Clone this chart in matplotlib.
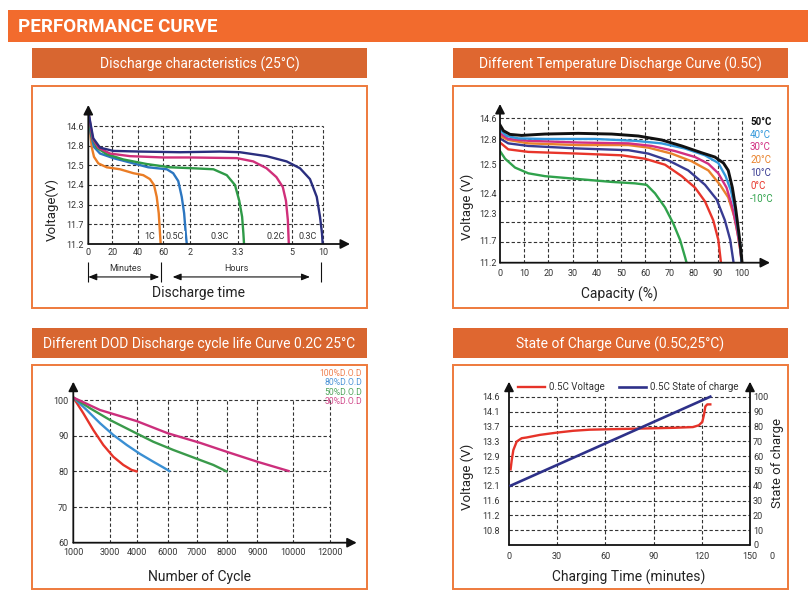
import numpy as np
import matplotlib
matplotlib.use("Agg")
import matplotlib.pyplot as plt
from matplotlib.patches import Rectangle

plt.rcParams['font.family'] = ['Roboto', 'DejaVu Sans']

# %% data

# discharge characteristics (25C): time in hours, voltage in V
dis_labels = ['1C', '0.5C', '0.3C', '0.2C', '0.3C']
dis_1c_h = [0, 0.024, 0.047, 0.079, 0.139, 0.256, 0.432, 0.603, 0.733, 0.822, 0.876, 0.912, 0.939, 0.956, 0.965]
dis_1c_v = [15.91, 14.24, 12.78, 12.63, 12.53, 12.49, 12.48, 12.46, 12.45, 12.43, 12.40, 12.34, 12.04, 11.47, 11.2]
dis_05c_h = [0, 0.033, 0.079, 0.163, 0.346, 0.603, 0.8, 1.13, 1.37, 1.56, 1.69, 1.78, 1.84, 1.88]
dis_05c_v = [15.91, 13.93, 12.78, 12.68, 12.61, 12.53, 12.49, 12.48, 12.46, 12.42, 12.34, 12.04, 11.47, 11.2]
dis_03c_h = [0, 0.047, 0.117, 0.256, 0.474, 0.779, 1.25, 2.09, 2.63, 2.99, 3.21, 3.33, 3.42, 3.46, 3.48]
dis_03c_v = [15.91, 13.63, 12.77, 12.67, 12.59, 12.52, 12.49, 12.485, 12.48, 12.45, 12.40, 12.32, 11.93, 11.47, 11.2]
dis_02c_h = [0, 0.061, 0.139, 0.301, 0.56, 1.0, 2.0, 3.26, 3.77, 4.19, 4.50, 4.70, 4.80, 4.86, 4.89]
dis_02c_v = [15.91, 13.47, 12.77, 12.68, 12.64, 12.62, 12.62, 12.61, 12.56, 12.485, 12.44, 12.39, 12.32, 11.83, 11.2]
dis_03c_long_h = [0, 0.069, 0.163, 0.346, 0.69, 1.63, 2.81, 3.35, 4.19, 4.82, 6.24, 7.85, 8.94, 9.47, 9.79, 9.90]
dis_03c_long_v = [15.91, 13.47, 12.77, 12.72, 12.71, 12.70, 12.71, 12.70, 12.64, 12.56, 12.485, 12.43, 12.34, 11.93, 11.47, 11.2]
dis_xticks = [0, 1 / 3, 2 / 3, 1, 2, 3.3, 5, 10]
dis_xticklabels = ['0', '20', '40', '60', '2', '3.3', '5', '10']
dis_yticks = [11.2, 11.7, 12.3, 12.4, 12.5, 12.8, 14.6]

# temperature discharge (0.5C): capacity in %, voltage in V
temp_labels = ['50°C', '40°C', '30°C', '20°C', '10°C', '0°C', '-10°C']
t50_cap = [0, 1.4, 4.1, 8.9, 18.6, 32.3, 46.1, 57.1, 66.7, 75.0, 83.2, 88.7, 92.2, 94.2, 95.9, 97.2, 98.6, 99.4, 99.9]
t50_v = [14.03, 13.53, 13.21, 13.12, 13.24, 13.30, 13.24, 13.07, 12.79, 12.72, 12.64, 12.59, 12.52, 12.48, 12.42, 12.33, 11.86, 11.49, 11.2]
t40_cap = [0, 2.8, 7.6, 18.6, 39.2, 55.7, 66.7, 76.3, 84.6, 90.1, 93.1, 95.3, 97.0, 98.3, 99.3, 99.7]
t40_v = [13.59, 13.07, 12.86, 12.81, 12.81, 12.78, 12.75, 12.69, 12.61, 12.52, 12.46, 12.41, 12.32, 11.90, 11.53, 11.2]
t30_cap = [0, 3.4, 11.7, 32.3, 53.0, 62.6, 72.2, 80.5, 86.0, 90.1, 93.5, 95.9, 97.7, 99.0, 99.7]
t30_v = [13.30, 12.81, 12.78, 12.76, 12.75, 12.72, 12.66, 12.59, 12.51, 12.47, 12.42, 12.33, 11.97, 11.56, 11.22]
t20_cap = [0, 3.4, 11.7, 32.3, 53.0, 61.2, 70.8, 79.1, 86.0, 90.8, 94.2, 96.7, 98.3, 99.4, 99.7]
t20_v = [13.07, 12.79, 12.75, 12.73, 12.73, 12.70, 12.63, 12.54, 12.48, 12.43, 12.38, 12.23, 11.79, 11.41, 11.2]
t10_cap = [0, 3.4, 11.7, 32.3, 53.0, 61.2, 69.5, 77.7, 84.6, 89.4, 92.8, 95.0, 96.4]
t10_v = [12.86, 12.75, 12.72, 12.69, 12.67, 12.63, 12.55, 12.48, 12.43, 12.37, 12.15, 11.72, 11.2]
t0_cap = [0, 3.4, 11.7, 32.3, 50.2, 59.8, 68.1, 75.0, 80.5, 84.6, 88.0, 90.1, 91.2]
t0_v = [12.76, 12.68, 12.65, 12.63, 12.61, 12.57, 12.50, 12.46, 12.42, 12.36, 12.15, 11.72, 11.2]
tm10_cap = [0, 2.1, 6.2, 11.7, 18.6, 32.3, 46.1, 55.7, 60.5, 64.0, 68.1, 71.5, 74.3, 76.3, 77.0]
tm10_v = [12.66, 12.57, 12.49, 12.47, 12.46, 12.45, 12.44, 12.435, 12.43, 12.40, 12.33, 12.08, 11.72, 11.34, 11.2]
temp_xticks = [0, 10, 20, 30, 40, 50, 60, 70, 80, 90, 100]
temp_yticks = [11.2, 11.7, 12.3, 12.4, 12.5, 12.8, 14.6]

# DOD cycle life (0.2C 25C): cycles, capacity %
dod_labels = ['100%D.O.D', '80%D.O.D', '50%D.O.D', '30%D.O.D']
dod100_cyc = [1000, 1545, 2090, 2635, 3124, 3500, 3812, 4000]
dod100_cap = [100.7, 96.3, 91.6, 87.4, 84.1, 81.8, 80.4, 80.0]
dod80_cyc = [1000, 1730, 2455, 3124, 3628, 4219, 5077, 5723, 6057]
dod80_cap = [100.7, 97.2, 93.5, 90.2, 87.4, 84.9, 82.7, 81.1, 80.1]
dod50_cyc = [1000, 1910, 3000, 3876, 5077, 6192, 6865, 7546, 8000]
dod50_cap = [100.7, 97.7, 94.4, 91.1, 88.3, 86.0, 83.9, 81.8, 80.0]
dod30_cyc = [1000, 2455, 4000, 6000, 7092, 8000, 9000, 9887]
dod30_cap = [100.7, 97.2, 94.1, 90.7, 88.0, 85.5, 82.7, 80.1]
dod_xticks = [1000, 3000, 4000, 6000, 7000, 8000, 9000, 10000, 12000]
dod_yticks = [60, 70, 80, 90, 100]

# state of charge (0.5C 25C): minutes, voltage V, SOC %
chg_min = [1.0, 1.7, 2.7, 4.8, 7.9, 11.0, 19.3, 29.6, 40.0, 50.3, 60.7, 81.4, 102.1, 114.5, 118.2, 120.3, 121.3, 122.2, 123.4, 125.3]
chg_volt = [12.54, 12.79, 13.06, 13.29, 13.38, 13.40, 13.47, 13.53, 13.58, 13.61, 13.62, 13.64, 13.66, 13.68, 13.73, 13.82, 14.00, 14.27, 14.34, 14.34]
soc_min = [1.0, 125.3]
soc_pct = [40, 100]
chg_xticks = [0, 30, 60, 90, 120, 150]
chg_vticks = [10.8, 11.2, 11.6, 12.1, 12.5, 12.9, 13.3, 13.7, 14.1, 14.6]
soc_ticks = [0, 10, 20, 30, 40, 50, 60, 70, 80, 90, 100]

# %% helpers

W, H = 808, 600
fig = plt.figure(figsize=(W / 100, H / 100), dpi=100)
bg = fig.add_axes([0, 0, 1, 1])
bg.set_xlim(0, W)
bg.set_ylim(H, 0)
bg.axis('off')

AX = '#111111'
GRID = '#333333'
TICK = '#333333'


def px_axes(l, t, r, b):
    ax = fig.add_axes([l / W, 1 - b / H, (r - l) / W, (b - t) / H])
    ax.set_facecolor('none')
    for s in ax.spines.values():
        s.set_visible(False)
    return ax


def knot_scale(ax, axis, vals, pos):
    # piecewise linear scale so the uneven tick values sit on the printed grid
    vals = np.asarray(vals, float)
    pos = np.asarray(pos, float)
    lo = (pos[1] - pos[0]) / (vals[1] - vals[0])
    hi = (pos[-1] - pos[-2]) / (vals[-1] - vals[-2])
    v = np.concatenate([[vals[0] - 1e4], vals, [vals[-1] + 1e4]])
    p = np.concatenate([[pos[0] - 1e4 * lo], pos, [pos[-1] + 1e4 * hi]])
    fwd = lambda x: np.interp(x, v, p)
    inv = lambda y: np.interp(y, p, v)
    if axis == 'x':
        ax.set_xscale('function', functions=(fwd, inv))
    else:
        ax.set_yscale('function', functions=(fwd, inv))
    return inv


def axis_line(ax, start, end, arrow=True):
    style = '-|>,head_length=0.55,head_width=0.28' if arrow else '-'
    ax.annotate('', xy=end, xytext=start, xycoords='axes fraction',
                arrowprops=dict(arrowstyle=style, lw=1.3, color=AX,
                                shrinkA=0, shrinkB=0))


def dashed_grid(ax, xs, y0, y1, ys, x0, x1):
    ax.vlines(xs, y0, y1, colors=GRID, linestyles=(0, (3, 2)), lw=0.8, zorder=1)
    ax.hlines(ys, x0, x1, colors=GRID, linestyles=(0, (3, 2)), lw=0.8, zorder=1)


# %% frames and headers

bg.add_patch(Rectangle((8, 10), 800, 32, color='#F26B2D', lw=0))
bg.text(18, 26.5, 'PERFORMANCE CURVE', color='white', fontsize=13.5,
        fontweight='bold', va='center', ha='left')

frames = [
    (32, 367, 48, 78, 86, 308, 'Discharge characteristics (25°C)', '#D86630'),
    (453, 788, 48, 78, 86, 308, 'Different Temperature Discharge Curve (0.5C)', '#DF6730'),
    (32, 367, 328, 358, 365, 589, 'Different DOD Discharge cycle life Curve 0.2C 25°C', '#D86630'),
    (453, 788, 328, 358, 365, 589, 'State of Charge Curve (0.5C,25°C)', '#DF6730'),
]
for x0, x1, ht, hb, bt, bb, title, col in frames:
    bg.add_patch(Rectangle((x0, ht), x1 - x0, hb - ht, color=col, lw=0))
    bg.text((x0 + x1) / 2, (ht + hb) / 2 + 1, title, color='white', fontsize=10,
            ha='center', va='center')
    bg.add_patch(Rectangle((x0, bt), x1 - x0, bb - bt, fill=False,
                           ec='#EE7A3C', lw=1.4))

# %% panel 1: discharge characteristics

ax1 = px_axes(88.3, 105, 350, 244)
inv_x1 = knot_scale(ax1, 'x', dis_xticks, [0, 24, 50, 75, 101.7, 150, 204, 235])
inv_y1 = knot_scale(ax1, 'y', dis_yticks, [0, 19.67, 39.33, 59, 78.67, 98.33, 118])
ax1.set_xlim(0, inv_x1(261.7))
ax1.set_ylim(11.2, inv_y1(139))
dashed_grid(ax1, dis_xticks[1:], 11.2, 14.6, dis_yticks[1:], 0, 10)

dis_series = [(dis_1c_h, dis_1c_v, '#EA7D26'), (dis_05c_h, dis_05c_v, '#2C76C0'),
              (dis_03c_h, dis_03c_v, '#2E9A47'), (dis_02c_h, dis_02c_v, '#D02F7A'),
              (dis_03c_long_h, dis_03c_long_v, '#2A2E7E')]
for xs, ys, c in dis_series:
    ax1.plot(xs, ys, color=c, lw=1.7, zorder=3, solid_capstyle='round')

tag_hours = [0.82, 1.44, 2.81, 4.48, 7.48]
for lab, th in zip(dis_labels, tag_hours):
    ax1.text(th, 11.40, lab, fontsize=6.5, color=TICK, ha='center', va='center',
             zorder=4, bbox=dict(fc='white', ec='none', pad=0.3))

ax1.set_xticks(dis_xticks, dis_xticklabels)
ax1.set_yticks(dis_yticks, [f'{v:.1f}' for v in dis_yticks])
ax1.tick_params(length=0, labelsize=6.5, labelcolor=TICK)
ax1.tick_params(axis='x', pad=3.2)
ax1.tick_params(axis='y', pad=3)
ax1.minorticks_off()
axis_line(ax1, (0, 0), (1, 0))
axis_line(ax1, (0, 0), (0, 1))
ax1.set_ylabel('Voltage(V)', fontsize=9.5, color='#222')
ax1.yaxis.set_label_coords(-0.112, 0.245)
ax1.set_xlabel('Discharge time', fontsize=10, color='#222')
ax1.xaxis.set_label_coords(0.423, -0.302)

# minutes / hours brackets below the axis
tr = ax1.get_xaxis_transform()
ax1.vlines([0, 0.965, 9.6], -0.273, -0.13, transform=tr, colors=AX, lw=0.8, clip_on=False)
for a, b in [(0, 0.947), (1.35, 7.85)]:
    ax1.annotate('', xy=(b, -0.237), xytext=(a, -0.237), xycoords=tr,
                 arrowprops=dict(arrowstyle='<|-|>,head_length=0.5,head_width=0.2',
                                 lw=0.8, color=AX, shrinkA=0, shrinkB=0))
ax1.text(0.496, -0.173, 'Minutes', transform=tr, fontsize=6.5, color=TICK,
         ha='center', va='center')
ax1.text(3.24, -0.173, 'Hours', transform=tr, fontsize=6.5, color=TICK,
         ha='center', va='center')

# %% panel 2: temperature discharge curves

ax2 = px_axes(500, 104, 770, 262.7)
inv_y2 = knot_scale(ax2, 'y', temp_yticks, [0, 22, 49.3, 69.3, 98, 123.6, 144.3])
ax2.set_xlim(0, 270 / 2.423)
ax2.set_ylim(11.2, inv_y2(158.7))
dashed_grid(ax2, temp_xticks[1:], 11.2, 14.6,
            [inv_y2(20.6 * k) for k in range(1, 8)], 0, 100)

temp_colors = ['#111111', '#3398DB', '#D22F82', '#E9822C', '#383B92', '#E8352B', '#30A24C']
temp_series = [(t50_cap, t50_v), (t40_cap, t40_v), (t30_cap, t30_v), (t20_cap, t20_v),
               (t10_cap, t10_v), (t0_cap, t0_v), (tm10_cap, tm10_v)]
for (xs, ys), c in reversed(list(zip(temp_series, temp_colors))):
    ax2.plot(xs, ys, color=c, lw=1.7 if c != '#111111' else 2.1, zorder=3)

for i, (lab, c) in enumerate(zip(temp_labels, temp_colors)):
    ax2.text(0.926, 0.888 - i * 0.0807, lab, transform=ax2.transAxes, color=c,
             fontsize=7, fontweight='bold' if i == 0 else 'normal',
             ha='left', va='center')

ax2.set_xticks(temp_xticks, [str(v) for v in temp_xticks])
ax2.set_yticks(temp_yticks, [f'{v:.1f}' for v in temp_yticks])
ax2.tick_params(length=0, labelsize=6.5, labelcolor=TICK)
ax2.tick_params(axis='x', pad=4.2)
ax2.tick_params(axis='y', pad=2.2)
ax2.minorticks_off()
axis_line(ax2, (0, 0), (1, 0))
axis_line(ax2, (0, 0), (0, 1))
ax2.set_ylabel('Voltage (V)', fontsize=9.5, color='#222')
ax2.yaxis.set_label_coords(-0.096, 0.353)
ax2.set_xlabel('Capacity (%)', fontsize=10, color='#222')
ax2.xaxis.set_label_coords(0.444, -0.151)

# %% panel 3: DOD cycle life

ax3 = px_axes(73.3, 381.7, 356.7, 542.7)
inv_x3 = knot_scale(ax3, 'x', dod_xticks, [0, 36.7, 63.3, 94.3, 124, 153.3, 184, 219.3, 256.7])
ax3.set_xlim(1000, inv_x3(283.4))
ax3.set_ylim(60, 60 + 161 / 3.567)
dashed_grid(ax3, dod_xticks[1:], 60, 100, dod_yticks[1:], 1000, 12000)

dod_colors = ['#E63329', '#3A8FD3', '#3A9A4B', '#CC2F7C']
dod_text_colors = ['#F08050', '#4D94D6', '#4FA45B', '#D0488A']
dod_series = [(dod100_cyc, dod100_cap), (dod80_cyc, dod80_cap),
              (dod50_cyc, dod50_cap), (dod30_cyc, dod30_cap)]
for (xs, ys), c in zip(dod_series, dod_colors):
    ax3.plot(xs, ys, color=c, lw=1.7, zorder=3)
for i, (lab, c) in enumerate(zip(dod_labels, dod_text_colors)):
    ax3.text(1.018, 1.052 - i * 0.059, lab, transform=ax3.transAxes, color=c,
             fontsize=6.2, ha='right', va='center')

ax3.set_xticks(dod_xticks, [str(v) for v in dod_xticks])
ax3.set_yticks(dod_yticks, [str(v) for v in dod_yticks])
ax3.tick_params(length=0, labelsize=6.5, labelcolor=TICK)
ax3.tick_params(axis='x', pad=4)
ax3.tick_params(axis='y', pad=3.6)
ax3.minorticks_off()
axis_line(ax3, (0, 0), (1, 0))
axis_line(ax3, (0, 0), (0, 1))
ax3.set_xlabel('Number of Cycle', fontsize=10, color='#222')
ax3.xaxis.set_label_coords(0.445, -0.17)

# %% panel 4: state of charge

ax4 = px_axes(509, 381.7, 750, 545)
inv_y4 = knot_scale(ax4, 'y', chg_vticks, [10, 20, 30, 40, 50, 60, 70, 80, 90, 100])
ax4.set_xlim(0, 150)
ax4.set_ylim(inv_y4(0), inv_y4(110.1))
dashed_grid(ax4, chg_xticks[1:-1], inv_y4(0), 14.6, chg_vticks, 0, 150)
ax4r = ax4.twinx()
ax4r.set_facecolor('none')
for s in ax4r.spines.values():
    s.set_visible(False)
ax4r.set_ylim(0, 110.1)

l_v, = ax4.plot(chg_min, chg_volt, color='#E63329', lw=1.7, zorder=3,
                label='0.5C Voltage')
l_s, = ax4r.plot(soc_min, soc_pct, color='#2E3189', lw=1.9, zorder=3,
                 label='0.5C State of charge')

ax4.set_xticks(chg_xticks, [str(v) for v in chg_xticks])
ax4.set_yticks(chg_vticks, [f'{v:.1f}' for v in chg_vticks])
ax4r.set_yticks(soc_ticks, [str(v) for v in soc_ticks])
ax4.tick_params(length=0, labelsize=6.5, labelcolor=TICK)
ax4.tick_params(axis='x', pad=5)
ax4.tick_params(axis='y', pad=6.5)
ax4r.tick_params(length=0, labelsize=6.5, labelcolor=TICK, pad=2.2)
ax4.minorticks_off()
axis_line(ax4, (0, 0), (1, 0), arrow=False)
axis_line(ax4, (0, 0), (0, 1))
axis_line(ax4r, (1, 0), (1, 1))
# stray "0" printed under the right axis in the original
bg.text(771.7, 556.7, '0', fontsize=6.5, color=TICK, ha='center', va='center')

ax4.legend(handles=[l_v, l_s], ncol=2, loc='center left',
           bbox_to_anchor=(0.037, 0.969), frameon=False, fontsize=7,
           handlelength=2.8, handletextpad=0.35, columnspacing=1.5,
           borderaxespad=0, borderpad=0, labelcolor=TICK)
ax4.set_ylabel('Voltage (V)', fontsize=9.5, color='#222')
ax4.yaxis.set_label_coords(-0.145, 0.418)
ax4r.set_ylabel('State of charge', fontsize=9.5, color='#222', rotation=90)
ax4r.yaxis.set_label_coords(1.086, 0.502)
ax4.set_xlabel('Charging Time (minutes)', fontsize=10, color='#222')
ax4.xaxis.set_label_coords(0.498, -0.153)

fig.savefig('out.png', dpi=100)
